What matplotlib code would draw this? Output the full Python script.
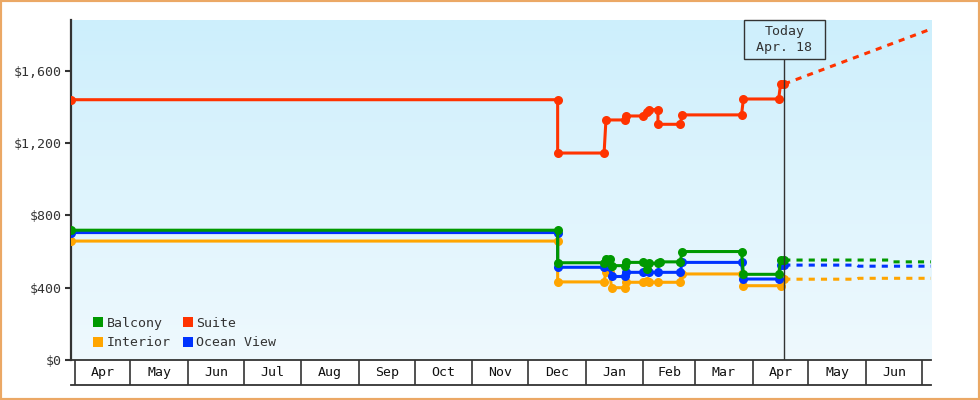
import numpy as np
import pandas as pd
import matplotlib
matplotlib.use("Agg")
import matplotlib.pyplot as plt
from matplotlib.lines import Line2D
from matplotlib.patches import Rectangle
from matplotlib.colors import LinearSegmentedColormap
from matplotlib.ticker import FuncFormatter

# ---------------- data ----------------
suite_dates = ["2018-03-30", "2018-12-17", "2018-12-17", "2019-01-11", "2019-01-12",
               "2019-01-22", "2019-01-23", "2019-02-01", "2019-02-03", "2019-02-04",
               "2019-02-09", "2019-02-09", "2019-02-21", "2019-02-22", "2019-03-26",
               "2019-03-27", "2019-04-15", "2019-04-16", "2019-04-18"]
suite_prices = [1440, 1440, 1145, 1145, 1328,
                1328, 1350, 1350, 1374, 1385,
                1385, 1304, 1304, 1356, 1356,
                1444, 1444, 1527, 1527]

balcony_dates = ["2018-03-30", "2018-12-17", "2018-12-17", "2019-01-11", "2019-01-12",
                 "2019-01-14", "2019-01-15", "2019-01-22", "2019-01-23", "2019-02-01",
                 "2019-02-03", "2019-02-04", "2019-02-09", "2019-02-10", "2019-02-21",
                 "2019-02-22", "2019-03-26", "2019-03-27", "2019-04-15", "2019-04-16",
                 "2019-04-18"]
balcony_prices = [718, 718, 538, 538, 558,
                  558, 522, 522, 540, 540,
                  505, 535, 535, 543, 543,
                  600, 600, 474, 474, 553,
                  553]

ocean_dates = ["2018-03-30", "2018-12-17", "2018-12-17", "2019-01-11", "2019-01-14",
               "2019-01-15", "2019-01-22", "2019-01-23", "2019-02-01", "2019-02-03",
               "2019-02-04", "2019-02-09", "2019-02-21", "2019-02-22", "2019-03-26",
               "2019-03-27", "2019-04-15", "2019-04-16", "2019-04-18"]
ocean_prices = [705, 705, 513, 513, 513,
                462, 462, 485, 485, 495,
                485, 485, 485, 540, 540,
                448, 448, 525, 525]

interior_dates = ["2018-03-30", "2018-12-17", "2018-12-17", "2019-01-11", "2019-01-12",
                  "2019-01-14", "2019-01-15", "2019-01-22", "2019-01-23", "2019-02-01",
                  "2019-02-03", "2019-02-04", "2019-02-09", "2019-02-21", "2019-02-22",
                  "2019-03-26", "2019-03-27", "2019-04-16", "2019-04-18"]
interior_prices = [658, 658, 432, 432, 489,
                   489, 400, 400, 430, 430,
                   438, 430, 430, 430, 476,
                   476, 411, 411, 447]

suite_fc_dates = ["2019-04-18", "2019-07-06"]
suite_fc_prices = [1527, 1831]
balcony_fc_dates = ["2019-04-18", "2019-06-13", "2019-06-14", "2019-07-06"]
balcony_fc_prices = [553, 553, 543, 543]
ocean_fc_dates = ["2019-04-18", "2019-05-27", "2019-05-28", "2019-07-06"]
ocean_fc_prices = [525, 525, 519, 519]
interior_fc_dates = ["2019-04-18", "2019-05-27", "2019-05-28", "2019-07-06"]
interior_fc_prices = [447, 447, 452, 452]

month_labels = ["Apr", "May", "Jun", "Jul", "Aug", "Sep", "Oct", "Nov", "Dec",
                "Jan", "Feb", "Mar", "Apr", "May", "Jun"]
y_ticks = [0, 400, 800, 1200, 1600]
today = "2019-04-18"
today_label = "Today\n Apr. 18 "

# ---------------- style ----------------
MONO = "DejaVu Sans Mono"
FS = 9.5
DARK = "#333333"
colors = {"Balcony": "#009900", "Suite": "#ff3300",
          "Interior": "#ffa500", "Ocean View": "#0033ff"}

x_start = pd.Timestamp("2018-03-30")
x_end = pd.Timestamp("2019-07-06")

fig = plt.figure(figsize=(9.8, 4.0), dpi=100)
W, H = 980, 400
ax = fig.add_axes([71 / W, 40 / H, 860 / W, 340 / H])
mx = fig.add_axes([71 / W, 15 / H, 860 / W, 25 / H])

# gradient background
cmap = LinearSegmentedColormap.from_list("bg", ["#eff9fe", "#cdeffc"])
grad = np.linspace(0, 1, 256).reshape(-1, 1)
ax.imshow(grad, extent=[0, 1, 0, 1], transform=ax.transAxes, aspect="auto",
          cmap=cmap, origin="lower", zorder=0)

def draw(dates, prices, fdates, fprices, color):
    d = pd.to_datetime(dates)
    fd = pd.to_datetime(fdates)
    ax.plot(fd, fprices, color=color, lw=2.2, linestyle=(0, (2, 2)), zorder=3)
    ax.plot(d, prices, color=color, lw=2.2, marker="o", markersize=6.5,
            markeredgewidth=0, zorder=4)

draw(interior_dates, interior_prices, interior_fc_dates, interior_fc_prices, colors["Interior"])
draw(ocean_dates, ocean_prices, ocean_fc_dates, ocean_fc_prices, colors["Ocean View"])
draw(balcony_dates, balcony_prices, balcony_fc_dates, balcony_fc_prices, colors["Balcony"])
draw(suite_dates, suite_prices, suite_fc_dates, suite_fc_prices, colors["Suite"])

# today line + box
t = pd.Timestamp(today)
ax.axvline(t, color=DARK, lw=1, zorder=5)
ax.annotate(today_label, xy=(t, 1.0),
            xycoords=("data", "axes fraction"),
            xytext=(0, -4.6), textcoords="offset pixels", ha="center", va="top",
            multialignment="center", fontsize=FS, family=MONO, color=DARK,
            linespacing=1.35, zorder=6,
            bbox=dict(boxstyle="square,pad=0.35", fc="#cfeffc", ec=DARK, lw=1))

ax.set_xlim(x_start, x_end)
ax.set_ylim(0, 1881)
ax.set_yticks(y_ticks)
ax.yaxis.set_major_formatter(FuncFormatter(lambda v, p: "${:,.0f}".format(v)))
ax.tick_params(axis="y", length=4, width=1.5, color=DARK, labelsize=FS,
               labelcolor=DARK, pad=2.5)
for lab in ax.get_yticklabels():
    lab.set_family(MONO)
ax.set_xticks([])
for s in ["top", "right"]:
    ax.spines[s].set_visible(False)
ax.spines["left"].set_color(DARK)
ax.spines["left"].set_linewidth(1.6)
ax.spines["bottom"].set_color(DARK)
ax.spines["bottom"].set_linewidth(1.3)

# legend
order = ["Balcony", "Interior", "Suite", "Ocean View"]
handles = [Line2D([], [], marker="s", linestyle="none", markersize=7.3,
                  markeredgewidth=0, color=colors[k]) for k in order]
leg = ax.legend(handles, order, ncol=2, loc="lower left",
                bbox_to_anchor=(0.013, 0.0), frameon=False,
                prop={"family": MONO, "size": FS}, handlelength=0.8,
                handletextpad=0.25, columnspacing=0.9, labelspacing=0.52,
                borderpad=0.3)
for txt in leg.get_texts():
    txt.set_color(DARK)

# month strip
mx.set_xlim(x_start, x_end)
mx.set_ylim(0, 1)
mx.set_xticks([])
mx.set_yticks([])
mx.patch.set_alpha(0)
for s in ["top", "left", "right"]:
    mx.spines[s].set_visible(False)
mx.spines["bottom"].set_color(DARK)
mx.spines["bottom"].set_linewidth(1.3)
starts = pd.date_range("2018-04-01", periods=len(month_labels) + 1, freq="MS")
for b in starts:
    mx.axvline(b, color=DARK, lw=1.2)
for i, name in enumerate(month_labels):
    mid = starts[i] + (starts[i + 1] - starts[i]) / 2
    mx.text(mid, 0.5, name, ha="center", va="center", fontsize=FS,
            family=MONO, color="#111111")

# orange border
fig.add_artist(Rectangle((0, 0), 1, 1, transform=fig.transFigure, fill=False,
                         edgecolor="#eba865", lw=3))

fig.savefig("out.png", dpi=100)
